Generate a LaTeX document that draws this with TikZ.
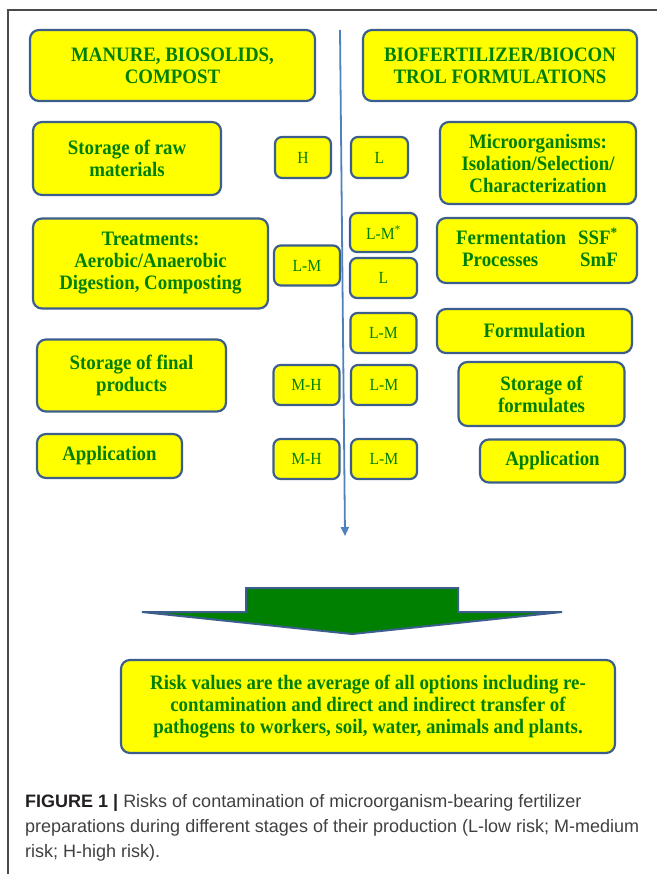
\documentclass[tikz,border=0pt]{standalone}
\usepackage{fontspec}
\setmainfont{Liberation Serif}
\setsansfont{Liberation Sans}
\newfontfamily\boxfont{Liberation Serif}[FakeStretch=0.92]
\usepackage{xcolor}
\usetikzlibrary{arrows.meta,positioning}
\definecolor{boxfill}{HTML}{FFFF00}
\definecolor{edge}{HTML}{3C5E8C}
\definecolor{leaf}{HTML}{008000}
\definecolor{axisblue}{HTML}{4F81BD}
\definecolor{inkgray}{HTML}{404040}
\definecolor{inkdark}{HTML}{231F20}
\definecolor{framegray}{HTML}{4A4A4A}

\begin{document}
\begin{tikzpicture}[
    x=1pt, y=-1pt,
    stage/.style={draw=edge, fill=boxfill, rounded corners=9pt,
                  line width=2.2pt, inner sep=0pt, text=leaf, align=center,
                  font=\boxfont\fontsize{20.5}{22}\selectfont\bfseries},
    risk/.style={stage, rounded corners=7pt, minimum width=66pt, minimum height=40pt,
                 font=\boxfont\fontsize{17}{18}\selectfont},
    axis/.style={draw=axisblue, line width=1.8pt,
                 -{Triangle[length=9pt,width=8pt]}},
    bigarrow/.style={draw=edge, fill=leaf, line width=2pt, line join=miter},
    caption/.style={inner sep=0pt, anchor=north west, align=left, text=inkgray,
                    font=\sffamily\fontsize{18}{25}\selectfont},
  ]
\useasboundingbox (0,0) rectangle (657,874);

% frame
\draw[framegray, line width=1.2pt] (8,874) -- (8,10) -- (657,10);

% time axis
\coordinate (axtop) at (340,30);
\coordinate (axend) at (345,536);
\draw[axis] (axtop) -- (axend);

% left column
\node[stage, minimum width=285pt, minimum height=71pt] (manure) at (172.5,65.5)
  {MANURE, BIOSOLIDS,\\COMPOST};
\node[stage, minimum width=188pt, minimum height=73pt] (rawstore) at (127,158.5)
  {Storage of raw\\materials};
\node[stage, minimum width=235pt, minimum height=90pt] (treat) at (150.5,263.5)
  {Treatments:\\Aerobic/Anaerobic\\Digestion, Composting};
\node[stage, minimum width=189pt, minimum height=72pt] (finalstore) at (131.5,375.5)
  {Storage of final\\products};
\node[stage, minimum width=145pt, minimum height=44pt] (appleft) at (109.5,456)
  {Application};

% right column
\node[stage, minimum width=274pt, minimum height=71pt] (biofert) at (500,65.5)
  {BIOFERTILIZER/BIOCON\\TROL FORMULATIONS};
\node[stage, minimum width=196pt, minimum height=82pt] (microbes) at (538,163)
  {Microorganisms:\\Isolation/Selection/\\Characterization};
\node[stage, minimum width=200pt, minimum height=65pt] (ferment) at (537,250.5)
  {\begin{tabular}{@{}l@{\hspace{12pt}}r@{}}
   Fermentation & SSF\textsuperscript{*}\\
   \hspace{6pt}Processes & SmF
   \end{tabular}};
\node[stage, minimum width=195pt, minimum height=44pt] (formul) at (534.5,331)
  {Formulation};
\node[stage, minimum width=166pt, minimum height=64pt] (formstore) at (541.5,394)
  {Storage of\\formulates};
\node[stage, minimum width=145pt, minimum height=43pt] (appright) at (552.5,461)
  {Application};

% risk levels, manure side
\node[risk, minimum width=56pt, minimum height=41pt] (hraw) at (303,157.5) {H};
\node[risk] (lmtreat) at (307,265.5) {L-M};
\node[risk] (mhfinal) at (306.5,385) {M-H};
\node[risk] (mhapp) at (306.5,459) {M-H};

% risk levels, formulation side
\node[risk, minimum width=57pt, minimum height=41pt] (lmicro) at (379.5,157.5) {L};
\node[risk, minimum width=67pt, minimum height=39pt] (lmferm) at (383.5,232.5)
  {L-M\textsuperscript{*}};
\node[risk, minimum width=67pt] (lferm) at (383.5,278) {L};
\node[risk] (lmformul) at (383.5,333) {L-M};
\node[risk] (lmstore) at (384,385) {L-M};
\node[risk] (lmapp) at (384,459) {L-M};

% summary arrow
\draw[bigarrow] (246,588) -- (458,588) -- (458,612) -- (562,612) -- (352,634)
  -- (142,612) -- (246,612) -- cycle;

\node[stage, minimum width=494pt, minimum height=93pt] (summary) at (368,706.5)
  {Risk values are the average of all options including re-\\
   contamination and direct and indirect transfer of\\
   pathogens to workers, soil, water, animals and plants.};

\node[caption] (figcap) at (25,794)
  {{\color{inkdark}\bfseries FIGURE 1 |} Risks of contamination of microorganism-bearing fertilizer\\
   preparations during different stages of their production (L-low risk; M-medium\\
   risk; H-high risk).};

\end{tikzpicture}
\end{document}
